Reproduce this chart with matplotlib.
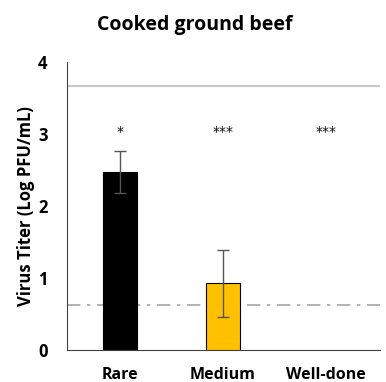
import matplotlib
matplotlib.use("Agg")
import matplotlib.pyplot as plt

categories = ["Rare", "Medium", "Well-done"]
titers = [2.47, 0.93, 0.0]
err_low = [0.29, 0.47, 0.0]
err_high = [0.29, 0.46, 0.0]
bar_colors = ["#000000", "#FFC000", "#FFFFFF"]
significance = ["*", "***", "***"]
initial_titer = 3.67
detection_limit = 0.62

plt.rcParams["font.family"] = ["Open Sans", "DejaVu Sans"]

fig = plt.figure(figsize=(3.86, 3.82), dpi=100)
ax = fig.add_axes([67 / 386, 32 / 382, 313 / 386, 288 / 382])

x = list(range(len(categories)))
for i in x:
    if titers[i] > 0:
        ax.bar(i, titers[i], width=0.33, color=bar_colors[i], edgecolor="black", linewidth=0.8, zorder=3)
        ax.errorbar(i, titers[i], yerr=[[err_low[i]], [err_high[i]]], fmt="none",
                    ecolor="#555555", elinewidth=1, capsize=4, capthick=1, zorder=4)

for i, s in enumerate(significance):
    ax.text(i, 2.93, s, ha="center", va="bottom", fontsize=10, color="#111111",
            family="DejaVu Sans")

ax.axhline(initial_titer, color="#c8c8c8", linewidth=1.5, zorder=1)
ax.axhline(detection_limit, color="#a6a6a6", linewidth=1.2, linestyle=(0, (8, 4, 2, 4)), zorder=1)

ax.set_xlim(-0.52, 2.53)
ax.set_ylim(0, 4)
ax.set_yticks([0, 1, 2, 3, 4])
ax.set_xticks(x)
ax.set_xticklabels(categories, fontsize=11.5, fontweight="bold")
for lbl in ax.get_yticklabels():
    lbl.set_fontsize(12)
    lbl.set_fontweight("bold")
ax.tick_params(axis="x", length=0, pad=12)
ax.tick_params(axis="y", length=0, pad=14)
ax.spines["top"].set_visible(False)
ax.spines["right"].set_visible(False)
ax.spines["left"].set_color("#404040")
ax.spines["bottom"].set_color("#404040")
ax.set_ylabel("Virus Titer (Log PFU/mL)", fontsize=12, fontweight="bold", labelpad=2)
fig.text(195 / 386, 1 - 25 / 382, "Cooked ground beef", ha="center", va="center",
         fontsize=14, fontweight="bold")

fig.savefig("out.png", dpi=100)
